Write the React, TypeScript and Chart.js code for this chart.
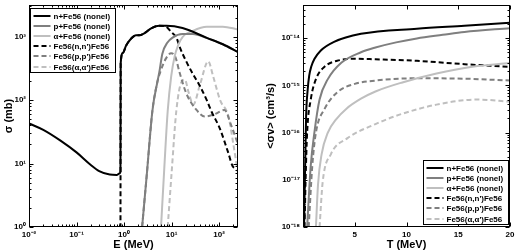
import React, { useEffect, useRef } from "react";
import { Chart, registerables } from "chart.js";

Chart.register(...registerables);

const FONT = '"Liberation Sans", Arial, Helvetica, sans-serif';
const BLACK = "#000000";
const GRAY = "#7f7f7f";
const LIGHT = "#bfbfbf";
const DASH = [5, 3];

const seriesLabels = [
  "n+Fe56 (nonel)",
  "p+Fe56 (nonel)",
  "\u03b1+Fe56 (nonel)",
  "Fe56(n,n')Fe56",
  "Fe56(p,p')Fe56",
  "Fe56(\u03b1,\u03b1')Fe56",
];

// ---------- Left panel: sigma (mb) vs E (MeV) ----------
const nNonelE = [0.01, 0.02, 0.046, 0.1, 0.2, 0.3, 0.5, 0.7, 0.8, 0.84, 0.85, 0.95, 1.1, 1.4, 1.8, 2.1, 2.6, 3.8, 5.5, 7.8, 17, 55, 120, 250];
const nNonelSigma = [43, 34, 23, 15, 9.5, 7.6, 6.7, 6.6, 7.0, 7.5, 380, 560, 720, 930, 1050, 1050, 1120, 1370, 1490, 1490, 1370, 960, 760, 570];

const pNonelE = [2.4, 3, 3.95, 5, 5.5, 6.4, 8.2, 10.5, 17, 28, 55, 120, 250];
const pNonelSigma = [1, 6.5, 68, 190, 270, 540, 810, 970, 1100, 1100, 960, 760, 570];

const aNonelE = [6.0, 7, 8.3, 9.8, 11.6, 13.6, 17.3, 28, 55, 120, 250];
const aNonelSigma = [1, 8, 68, 235, 490, 720, 1000, 1240, 1440, 1440, 1300];

const nInelE = [0.84, 0.85, 0.95, 1.1, 1.4, 1.8, 2.1, 2.6, 3.8, 5.5, 7.5, 10, 12.8, 14.8, 21, 28, 39, 55, 70, 105, 155, 200, 250];
const nInelSigma = [0.3, 380, 560, 720, 930, 1050, 1050, 1120, 1370, 1490, 1450, 1170, 950, 690, 390, 260, 170, 100, 65, 35, 15, 8.8, 8.5];

const pInelE = [2.4, 3, 3.95, 5, 6, 7.7, 9.8, 12, 14.8, 20.5, 33.5, 50, 80, 130, 180, 250];
const pInelSigma = [1, 6.5, 68, 190, 300, 460, 550, 480, 270, 127, 70, 55, 60, 70, 40, 20];

const aInelE = [8.3, 10, 12.6, 16, 19, 23, 28.5, 40, 59, 75, 105, 158, 200, 250];
const aInelSigma = [1, 7, 68, 190, 210, 130, 85, 180, 410, 237, 100, 55, 20, 7];

const leftXTickExps = [-2, -1, 0, 1, 2];
const leftYTickExps = [0, 1, 2, 3];

// ---------- Right panel: <sigma v> (cm^3/s) vs T (MeV) ----------
const nNonelT = [0.1, 0.2, 0.3, 0.45, 0.6, 0.8, 1.1, 1.7, 3, 5.6, 11, 15.6, 20];
const nNonelRate = [1e-18, 1.6e-17, 2.2e-16, 8e-16, 1.6e-15, 2.5e-15, 3.6e-15, 5.4e-15, 8.3e-15, 1.23e-14, 1.58e-14, 1.82e-14, 2.1e-14];

const pNonelT = [0.4, 0.75, 1.1, 1.6, 2.4, 3.7, 5.6, 7, 9, 11, 13.5, 15.6, 20];
const pNonelRate = [1e-18, 2e-17, 1e-16, 5e-16, 1.35e-15, 3.0e-15, 5.0e-15, 6.3e-15, 8.1e-15, 9.8e-15, 1.17e-14, 1.35e-14, 1.62e-14];

const aNonelT = [1.25, 1.45, 1.8, 2.4, 3.2, 4.2, 5.6, 7, 9.6, 12.9, 16.2, 20];
const aNonelRate = [1e-18, 7.9e-18, 3.5e-17, 1.0e-16, 1.9e-16, 3.2e-16, 5.2e-16, 7.4e-16, 1.15e-15, 1.78e-15, 2.45e-15, 2.95e-15];

const nInelT = [0.15, 0.25, 0.4, 0.75, 1.25, 2.1, 3.3, 5, 7, 11, 15.6, 20];
const nInelRate = [1e-18, 1e-17, 1e-16, 5e-16, 1.35e-15, 2.5e-15, 3.3e-15, 3.65e-15, 3.55e-15, 3.3e-15, 2.8e-15, 2.45e-15];

const pInelT = [0.55, 0.9, 1.25, 2.1, 3.3, 5, 7, 11, 15.6, 20];
const pInelRate = [1e-18, 2e-17, 1e-16, 3.2e-16, 7.1e-16, 1.07e-15, 1.26e-15, 1.41e-15, 1.38e-15, 1.26e-15];

const aInelT = [1.6, 1.9, 2.7, 4.3, 7, 9.6, 12.9, 16.8, 20];
const aInelRate = [1e-18, 8.9e-18, 3.5e-17, 7.6e-17, 1.51e-16, 2.5e-16, 3.9e-16, 5.0e-16, 4.5e-16];

const rightXTicks = [5, 10, 15, 20];
const rightYTickExps = [-18, -17, -16, -15, -14];

// ---------- helpers ----------
const SUP: Record<string, string> = {
  "-": "\u207b", "0": "\u2070", "1": "\u00b9", "2": "\u00b2", "3": "\u00b3",
  "4": "\u2074", "5": "\u2075", "6": "\u2076", "7": "\u2077", "8": "\u2078", "9": "\u2079",
};
function pow10Label(v: number) {
  const e = Math.round(Math.log10(v));
  return "10" + String(e).split("").map((c) => SUP[c]).join("");
}
function pairs(xs: number[], ys: number[]) {
  return xs.map((x, i) => ({ x, y: ys[i] }));
}
function ds(label: string, xs: number[], ys: number[], color: string, dashed: boolean) {
  return {
    label,
    data: pairs(xs, ys),
    borderColor: color,
    backgroundColor: color,
    borderWidth: 2,
    borderDash: dashed ? DASH : [],
    pointRadius: 0,
    fill: false,
    cubicInterpolationMode: "monotone",
  };
}
function minorLog(min: number, max: number) {
  const out: number[] = [];
  for (let e = Math.floor(Math.log10(min)) - 1; e <= Math.ceil(Math.log10(max)); e++) {
    for (let k = 2; k <= 9; k++) {
      const v = k * Math.pow(10, e);
      if (v > min && v < max) out.push(v);
    }
  }
  return out;
}

const framePlugin = {
  id: "frameTicks",
  afterDatasetsDraw(chart: any, _a: any, opts: any) {
    const { ctx, chartArea: ca, scales } = chart;
    const L = Math.round(ca.left) + 0.5;
    const R = Math.round(ca.right) - 0.5;
    const T = Math.round(ca.top) + 0.5;
    const B = Math.round(ca.bottom) - 0.5;
    ctx.save();
    ctx.strokeStyle = "#000";
    ctx.lineWidth = 1;
    ctx.setLineDash([]);
    const line = (x1: number, y1: number, x2: number, y2: number) => {
      ctx.beginPath();
      ctx.moveTo(x1, y1);
      ctx.lineTo(x2, y2);
      ctx.stroke();
    };
    const xs = scales.x;
    const ys = scales.y;
    const xTick = (v: number, len: number) => {
      const p = Math.round(xs.getPixelForValue(v)) + 0.5;
      line(p, B, p, B - len);
      line(p, T, p, T + len);
    };
    const yTick = (v: number, len: number) => {
      const p = Math.round(ys.getPixelForValue(v)) + 0.5;
      line(L, p, L + len, p);
      line(R, p, R - len, p);
    };
    xs.ticks.forEach((t: any) => xTick(t.value, 4));
    ys.ticks.forEach((t: any) => yTick(t.value, 4));
    if (opts && opts.xMinor) minorLog(xs.min, xs.max).forEach((v) => xTick(v, 2));
    if (opts && opts.yMinor) minorLog(ys.min, ys.max).forEach((v) => yTick(v, 2));
    ctx.strokeRect(L, T, R - L, B - T);
    ctx.restore();
  },
};

const legendPlugin = {
  id: "boxLegend",
  afterDraw(chart: any, _a: any, opts: any) {
    if (!opts || !opts.show) return;
    const { ctx, chartArea: ca } = chart;
    const w = opts.width;
    const h = opts.height;
    let x0 = opts.corner === "tl" ? ca.left + opts.dx : ca.right - opts.dx - w;
    let y0 = opts.corner === "tl" ? ca.top + opts.dy : ca.bottom - opts.dy - h;
    x0 = Math.round(x0) + 0.5;
    y0 = Math.round(y0) + 0.5;
    ctx.save();
    ctx.fillStyle = "#fff";
    ctx.fillRect(x0, y0, w, h);
    ctx.strokeStyle = "#000";
    ctx.lineWidth = 1;
    ctx.setLineDash([]);
    ctx.strokeRect(x0, y0, w, h);
    ctx.font = `bold 8px ${FONT}`;
    ctx.textBaseline = "middle";
    ctx.textAlign = "left";
    chart.data.datasets.forEach((d: any, i: number) => {
      const cy = Math.round(y0 + opts.firstRow + i * opts.rowHeight);
      ctx.beginPath();
      ctx.setLineDash(d.borderDash || []);
      ctx.strokeStyle = d.borderColor;
      ctx.lineWidth = 2;
      ctx.moveTo(x0 + 3, cy);
      ctx.lineTo(x0 + 20, cy);
      ctx.stroke();
      ctx.setLineDash([]);
      ctx.fillStyle = "#000";
      ctx.fillText(d.label, x0 + 23, cy + 0.5);
    });
    ctx.restore();
  },
};

const tickFont = { family: FONT, size: 8, weight: "bold" as const };
const titleFont = { family: FONT, size: 11, weight: "bold" as const };

function fixPadding(s: any) {
  s.paddingTop = 0;
  s.paddingBottom = 0;
  s.paddingLeft = 0;
  s.paddingRight = 0;
}

function leftConfig(): any {
  return {
    type: "line",
    data: {
      datasets: [
        ds(seriesLabels[0], nNonelE, nNonelSigma, BLACK, false),
        ds(seriesLabels[1], pNonelE, pNonelSigma, GRAY, false),
        ds(seriesLabels[2], aNonelE, aNonelSigma, LIGHT, false),
        ds(seriesLabels[3], nInelE, nInelSigma, BLACK, true),
        ds(seriesLabels[4], pInelE, pInelSigma, GRAY, true),
        ds(seriesLabels[5], aInelE, aInelSigma, LIGHT, true),
      ],
    },
    plugins: [framePlugin, legendPlugin],
    options: {
      animation: false,
      responsive: false,
      devicePixelRatio: 1,
      layout: { padding: { top: 5, right: 21, left: 0, bottom: 0 } },
      plugins: {
        legend: { display: false },
        tooltip: { enabled: false },
        frameTicks: { xMinor: true, yMinor: true },
        boxLegend: { show: true, corner: "tl", dx: 1, dy: 3, width: 85, height: 64, firstRow: 7, rowHeight: 10.2 },
      },
      scales: {
        x: {
          type: "logarithmic",
          min: 0.01,
          max: 250,
          grid: { display: false, drawTicks: false },
          border: { display: false },
          afterBuildTicks: (s: any) => {
            s.ticks = leftXTickExps.map((e) => ({ value: Math.pow(10, e) }));
          },
          afterFit: (s: any) => {
            s.height = 25;
            fixPadding(s);
          },
          ticks: {
            autoSkip: false,
            maxRotation: 0,
            padding: 3,
            color: "#000",
            font: tickFont,
            callback: (v: any) => pow10Label(Number(v)),
          },
          title: { display: true, text: "E (MeV)", color: "#000", font: titleFont, padding: { top: 0, bottom: 0 } },
        },
        y: {
          type: "logarithmic",
          min: 1,
          max: Math.pow(10, 3.5),
          grid: { display: false, drawTicks: false },
          border: { display: false },
          afterBuildTicks: (s: any) => {
            s.ticks = leftYTickExps.map((e) => ({ value: Math.pow(10, e) }));
          },
          afterFit: (s: any) => {
            s.width = 29;
            fixPadding(s);
          },
          ticks: {
            autoSkip: false,
            padding: 3,
            color: "#000",
            font: tickFont,
            callback: (v: any) => pow10Label(Number(v)),
          },
          title: { display: true, text: "\u03c3 (mb)", color: "#000", font: titleFont, padding: { top: 2, bottom: 0 } },
        },
      },
    },
  };
}

function rightConfig(): any {
  return {
    type: "line",
    data: {
      datasets: [
        ds(seriesLabels[0], nNonelT, nNonelRate, BLACK, false),
        ds(seriesLabels[1], pNonelT, pNonelRate, GRAY, false),
        ds(seriesLabels[2], aNonelT, aNonelRate, LIGHT, false),
        ds(seriesLabels[3], nInelT, nInelRate, BLACK, true),
        ds(seriesLabels[4], pInelT, pInelRate, GRAY, true),
        ds(seriesLabels[5], aInelT, aInelRate, LIGHT, true),
      ],
    },
    plugins: [framePlugin, legendPlugin],
    options: {
      animation: false,
      responsive: false,
      devicePixelRatio: 1,
      layout: { padding: { top: 5, right: 8, left: 0, bottom: 0 } },
      plugins: {
        legend: { display: false },
        tooltip: { enabled: false },
        frameTicks: { xMinor: false, yMinor: true },
        boxLegend: { show: true, corner: "br", dx: 2, dy: 3, width: 85, height: 64, firstRow: 7, rowHeight: 10.2 },
      },
      scales: {
        x: {
          type: "linear",
          min: 0,
          max: 20,
          grid: { display: false, drawTicks: false },
          border: { display: false },
          afterBuildTicks: (s: any) => {
            s.ticks = rightXTicks.map((v) => ({ value: v }));
          },
          afterFit: (s: any) => {
            s.height = 25;
            fixPadding(s);
          },
          ticks: {
            autoSkip: false,
            maxRotation: 0,
            padding: 3,
            color: "#000",
            font: tickFont,
            callback: (v: any) => String(v),
          },
          title: { display: true, text: "T (MeV)", color: "#000", font: titleFont, padding: { top: 0, bottom: 0 } },
        },
        y: {
          type: "logarithmic",
          min: 1e-18,
          max: Math.pow(10, -13.3),
          grid: { display: false, drawTicks: false },
          border: { display: false },
          afterBuildTicks: (s: any) => {
            s.ticks = rightYTickExps.map((e) => ({ value: Math.pow(10, e) }));
          },
          afterFit: (s: any) => {
            s.width = 44;
            fixPadding(s);
          },
          ticks: {
            autoSkip: false,
            padding: 3,
            color: "#000",
            font: tickFont,
            callback: (v: any) => pow10Label(Number(v)),
          },
          title: { display: true, text: "<\u03c3v> (cm\u00b3/s)", color: "#000", font: titleFont, padding: { top: 5, bottom: 0 } },
        },
      },
    },
  };
}

function Panel({ make, width }: { make: () => any; width: number }) {
  const ref = useRef<HTMLCanvasElement | null>(null);
  useEffect(() => {
    if (!ref.current) return;
    const chart = new Chart(ref.current, make());
    return () => chart.destroy();
  }, [make]);
  return <canvas ref={ref} width={width} height={252} style={{ display: "block", width, height: 252 }} />;
}

export default function App() {
  return (
    <div
      style={{
        position: "absolute",
        left: 0,
        top: 0,
        width: 518,
        height: 252,
        display: "flex",
        background: "#fff",
      }}
    >
      <Panel make={leftConfig} width={259} />
      <Panel make={rightConfig} width={259} />
    </div>
  );
}
